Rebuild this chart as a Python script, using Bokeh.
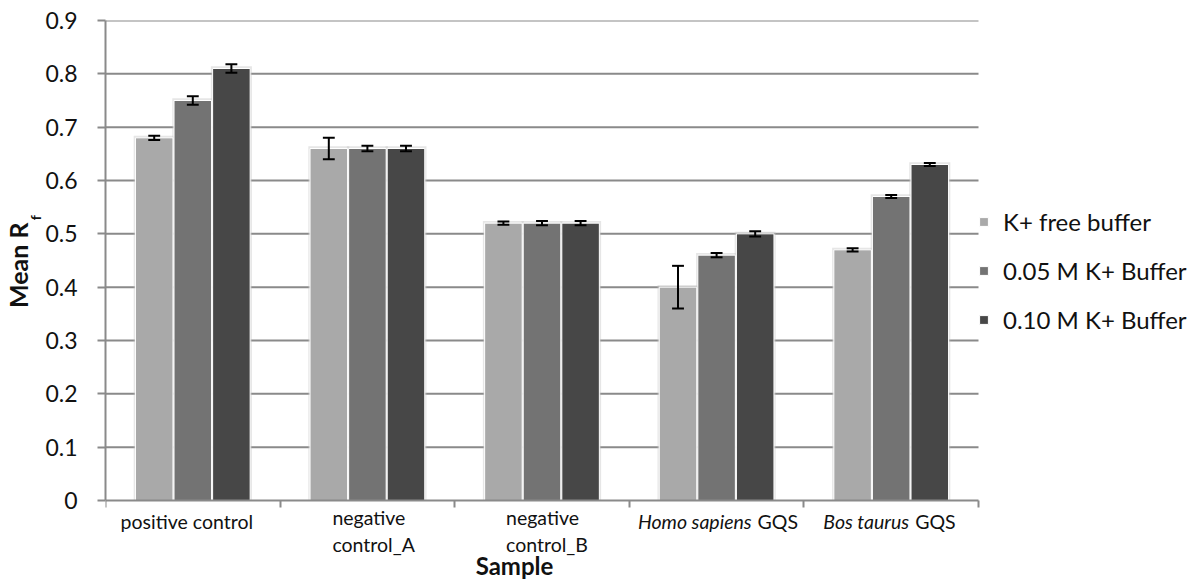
from bokeh.plotting import figure
from bokeh.models import (ColumnDataSource, Range1d, FixedTicker, LinearAxis,
                          NumeralTickFormatter, Legend, LegendItem)
from bokeh.core.properties import value
from bokeh.transform import dodge
from bokeh.embed import file_html
from bokeh.resources import INLINE

# ---- data ----
categories = ["positive control", "negative control_A", "negative control_B",
              "Homo sapiens GQS", "Bos taurus GQS"]
series_names = ["K+ free buffer", "0.05 M K+ Buffer", "0.10 M K+ Buffer"]
free_buffer = [0.68, 0.66, 0.52, 0.40, 0.47]
free_buffer_err = [0.004, 0.02, 0.003, 0.04, 0.003]
buffer_005 = [0.75, 0.66, 0.52, 0.46, 0.57]
buffer_005_err = [0.008, 0.005, 0.004, 0.004, 0.003]
buffer_010 = [0.81, 0.66, 0.52, 0.50, 0.63]
buffer_010_err = [0.008, 0.005, 0.004, 0.005, 0.003]
y_ticks = [0, 0.1, 0.2, 0.3, 0.4, 0.5, 0.6, 0.7, 0.8, 0.9]
x_title = "Sample"
y_title, y_title_sub = "Mean R", "f"

# ---- layout / styling ----
FONT = "Lato"
TXT = "#111111"
colors = ["#a9a9a9", "#737373", "#474747"]
offsets = [-0.221, 0.0, 0.221]
BAR_W = 0.215
GRID = "#8a8a8a"
n = len(categories)
Y_MAX = y_ticks[-1]
PLOT_W, PLOT_H = 873, 480          # pixel size of the value area (0..n, 0..Y_MAX)
FRAME_W, FRAME_H = 1095, 562       # frame extends right (legend) and down (labels)
PX_X = PLOT_W / n
PX_Y = PLOT_H / Y_MAX
X_END = FRAME_W / PX_X
Y_START = Y_MAX - FRAME_H / PX_Y

p = figure(frame_width=FRAME_W, frame_height=FRAME_H,
           x_range=Range1d(0, X_END), y_range=Range1d(Y_START, Y_MAX),
           output_backend="svg", toolbar_location=None, x_axis_location="above",
           min_border_left=105, min_border_top=20, min_border_right=0, min_border_bottom=0)
p.outline_line_color = None
p.background_fill_color = "white"
p.border_fill_color = "white"
p.xgrid.visible = False
p.ygrid.visible = False

# horizontal gridlines limited to the value area
p.segment(x0=0, x1=n, y0=y_ticks[1:], y1=y_ticks[1:], line_color=GRID, line_width=2)

# y axis
yax = p.yaxis[0]
yax.bounds = (0, Y_MAX)
yax.ticker = FixedTicker(ticks=y_ticks)
yax.formatter = NumeralTickFormatter(format="0.[0]")
yax.major_label_text_font = FONT
yax.major_label_text_font_size = "23px"
yax.major_label_text_color = TXT
yax.major_tick_out = 8
yax.major_tick_in = 0
yax.minor_tick_line_color = None
yax.major_label_standoff = 20
yax.axis_line_color = GRID
yax.axis_line_width = 2
yax.major_tick_line_color = GRID
yax.major_tick_line_width = 2

# y title pieces as single-tick axes (so that the subscript sits at its own place)
F_POS, M_POS = 0.53, 0.441
for pos, txt, size, standoff in [(F_POS, y_title_sub, "14px", -2), (M_POS, y_title, "25px", -9)]:
    ax = LinearAxis(ticker=FixedTicker(ticks=[pos]), major_label_overrides={pos: txt},
                    major_label_orientation="parallel", major_tick_out=0, major_tick_in=0,
                    major_tick_line_color=None, minor_tick_line_color=None, axis_line_color=None,
                    major_label_standoff=standoff, major_label_text_font=FONT,
                    major_label_text_font_size=size, major_label_text_font_style="bold",
                    major_label_text_color=TXT)
    p.add_layout(ax, "left")

# category axis: ticks on category boundaries, axis line at 0
xax = p.xaxis[0]
xax.fixed_location = 0
xax.bounds = (0, n)
xax.ticker = FixedTicker(ticks=list(range(n + 1)))
xax.major_label_overrides = {i: "" for i in range(n + 1)}
xax.major_label_standoff = 0
xax.major_tick_out = 0
xax.major_tick_in = 7
xax.minor_tick_line_color = None
xax.axis_line_color = GRID
xax.axis_line_width = 2
xax.major_tick_line_color = GRID
xax.major_tick_line_width = 2

src = ColumnDataSource(dict(cat=categories, pos=[i + 0.5 for i in range(n)],
                            v0=free_buffer, v1=buffer_005, v2=buffer_010))
for k, vals in enumerate([free_buffer, buffer_005, buffer_010]):
    errs = [free_buffer_err, buffer_005_err, buffer_010_err][k]
    src.data[f"lo{k}"] = [v - e for v, e in zip(vals, errs)]
    src.data[f"hi{k}"] = [v + e for v, e in zip(vals, errs)]
    src.data[f"sh{k}"] = [v + 0.004 for v in vals]

# soft shadow behind bars
for k in range(3):
    p.vbar(x=dodge("pos", offsets[k]), top=f"sh{k}", width=BAR_W + 0.02, bottom=0,
           source=src, fill_color="#c8c8c8", fill_alpha=0.45, line_color=None)
renderers = []
for k in range(3):
    r = p.vbar(x=dodge("pos", offsets[k]), top=f"v{k}", width=BAR_W, bottom=0,
               source=src, fill_color=colors[k], line_color="white", line_width=1)
    renderers.append(r)
# error bars
CAP = 0.034
for k in range(3):
    p.segment(x0=dodge("pos", offsets[k]), x1=dodge("pos", offsets[k]),
              y0=f"lo{k}", y1=f"hi{k}", source=src, line_color="black", line_width=2)
    for end in ("lo", "hi"):
        p.segment(x0=dodge("pos", offsets[k] - CAP), x1=dodge("pos", offsets[k] + CAP),
                  y0=f"{end}{k}", y1=f"{end}{k}", source=src, line_color="black", line_width=2)

# legend (inside the extended frame, right of the value area)
legend = Legend(items=[LegendItem(label=series_names[k], renderers=[renderers[k]]) for k in range(3)],
                location=(PLOT_W, 248), orientation="vertical")
legend.label_text_font = FONT
legend.label_text_font_size = "24px"
legend.label_text_color = TXT
legend.glyph_width = 11
legend.glyph_height = 11
legend.label_standoff = 14
legend.spacing = 20
legend.padding = 5
legend.margin = 0
legend.border_line_color = None
legend.background_fill_alpha = 0
p.add_layout(legend)

# category labels below the axis (text glyphs; offsets in pixels converted to data units)
c = src.data["pos"]
lab = dict(x=[], y=[], text=[], align=[], style=[])
def add(text, ci, dx_px, dy_px, align="center", style="normal"):
    lab["x"].append(c[ci] + dx_px / PX_X)
    lab["y"].append(-dy_px / PX_Y)
    lab["text"].append(text)
    lab["align"].append(align)
    lab["style"].append(style)

add("positive control", 0, -6, 21)
add("negative", 1, -35, 17, "left")
add("control_A", 1, -35, 44, "left")
add("negative", 2, -36, 17, "left")
add("control_B", 2, -36, 44, "left")
add("Homo sapiens", 3, 35, 21, "right", "italic")
add("GQS", 3, 41, 21, "left")
add("Bos taurus", 4, 18, 21, "right", "italic")
add("GQS", 4, 24, 21, "left")
p.text(x="x", y="y", text="text", source=ColumnDataSource(lab), text_align="align",
       text_font_style="style", text_baseline="middle", text_font=value(FONT),
       text_font_size=value("19.5px"), text_color=TXT)

# x title
p.text(x=[(514 - 105) / PX_X], y=[-65 / PX_Y], text=[x_title], text_align="center",
       text_baseline="middle", text_font=value(FONT), text_font_size=value("24px"),
       text_font_style="bold", text_color=TXT)

open("out.html", "w").write(file_html(p, INLINE))
